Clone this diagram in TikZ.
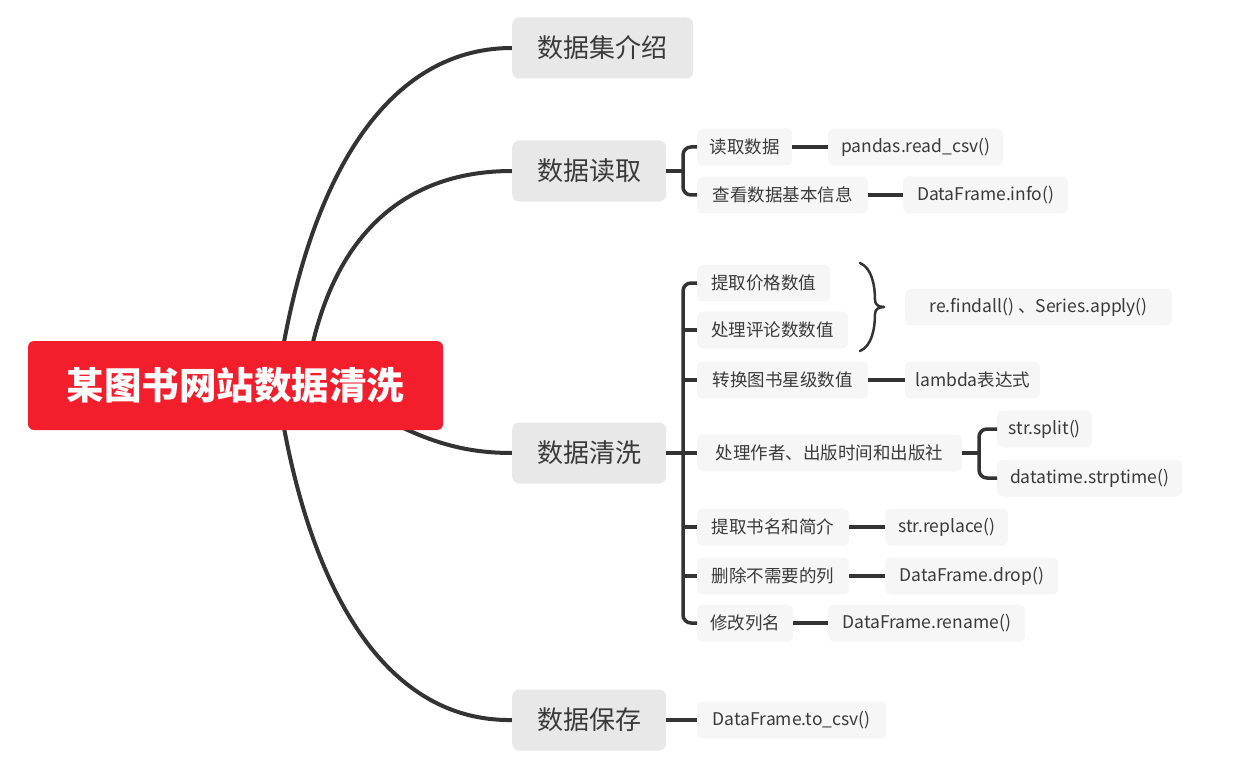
\documentclass[tikz,border=0pt]{standalone}
\usepackage{fontspec}
\setmainfont{Noto Sans CJK SC}
\usetikzlibrary{backgrounds}
\definecolor{rootred}{RGB}{243,30,44}
\definecolor{lvlgray}{RGB}{232,232,232}
\definecolor{leafgray}{RGB}{246,246,246}
\definecolor{ink}{RGB}{51,51,51}
\definecolor{txt}{RGB}{58,58,58}
\begin{document}
\begin{tikzpicture}[x=1pt,y=-1pt,
  rootbox/.style={fill=rootred, text=white, rounded corners=6pt, font=\fontsize{37.5}{42}\selectfont\bfseries, minimum width=415pt, minimum height=89pt, inner sep=0pt},
  topic/.style={fill=lvlgray, text=txt, rounded corners=7pt, font=\fontsize{26}{30}\selectfont, minimum height=61pt, inner xsep=4pt, anchor=west},
  leaf/.style={fill=leafgray, text=txt, rounded corners=6pt, font=\fontsize{17.5}{20}\selectfont, minimum height=37pt, inner xsep=4pt, anchor=west},
  conn/.style={draw=ink, line width=3.5pt},
  curve/.style={draw=ink, line width=4pt},
]
\useasboundingbox (0,0) rectangle (1260,762);

\node[rootbox] (root) at (235.5,385.5) {某图书网站数据清洗};

\node[topic, minimum width=181pt] (t1) at (512,48) {数据集介绍};
\node[topic, minimum width=154pt] (t2) at (512,171) {数据读取};
\node[topic, minimum width=154pt] (t3) at (512,453) {数据清洗};
\node[topic, minimum width=154pt] (t4) at (512,720) {数据保存};

% 数据读取
\node[leaf, minimum width=95pt] (r1) at (697,147) {读取数据};
\node[leaf, minimum width=175pt] (r1a) at (828,147) {pandas.read\_csv()};
\node[leaf, minimum width=171pt] (r2) at (697,195) {查看数据基本信息};
\node[leaf, minimum width=165pt] (r2a) at (903,195) {DataFrame.info()};

% 数据清洗
\node[leaf, minimum width=133pt] (c1) at (697,283) {提取价格数值};
\node[leaf, minimum width=151pt] (c2) at (697,330) {处理评论数数值};
\node[leaf, minimum width=267pt] (cb) at (905,307) {re.findall() 、Series.apply()};
\node[leaf, minimum width=171pt] (c3) at (697,380) {转换图书星级数值};
\node[leaf, minimum width=135pt] (c3a) at (905,380) {lambda表达式};
\node[leaf, minimum width=265pt] (c4) at (697,453) {处理作者、出版时间和出版社};
\node[leaf, minimum width=95pt] (c4a) at (997,429) {str.split()};
\node[leaf, minimum width=185pt] (c4b) at (997,478) {datatime.strptime()};
\node[leaf, minimum width=152pt] (c5) at (697,527) {提取书名和简介};
\node[leaf, minimum width=123pt] (c5a) at (885,527) {str.replace()};
\node[leaf, minimum width=152pt] (c6) at (697,576) {删除不需要的列};
\node[leaf, minimum width=173pt] (c6a) at (885,576) {DataFrame.drop()};
\node[leaf, minimum width=96pt] (c7) at (697,623) {修改列名};
\node[leaf, minimum width=197pt] (c7a) at (828,623) {DataFrame.rename()};

% 数据保存
\node[leaf, minimum width=189pt] (s1) at (697,720) {DataFrame.to\_csv()};

% main curves behind the root
\coordinate (o1) at (277,385);
\coordinate (o2) at (305,385);
\coordinate (o3) at (360,405);
\begin{scope}[on background layer]
\draw[curve] (o1) .. controls (305,187) and (382,48) .. (t1.west);
\draw[curve] (o2) .. controls (325,240) and (400,171) .. (t2.west);
\draw[curve] (o3) .. controls (420,440) and (460,453) .. (t3.west);
\draw[curve] (o1) .. controls (305,583) and (382,722) .. (t4.west);
\end{scope}

% 数据读取 bracket
\coordinate (kr) at (683,171);
\draw[conn] (t2.east) -- (kr);
\draw[conn, rounded corners=8pt] (r1.west) -| (kr) |- (r2.west);
\draw[conn] (r1.east) -- (r1a.west);
\draw[conn] (r2.east) -- (r2a.west);

% 数据清洗 trunk
\coordinate (kc) at (683,453);
\draw[conn] (t3.east) -- (kc);
\draw[conn, rounded corners=8pt] (c1.west) -| (kc) |- (c7.west);
\draw[conn] (c2.west -| kc) -- (c2.west);
\draw[conn] (c3.west -| kc) -- (c3.west);
\draw[conn] (kc) -- (c4.west);
\draw[conn] (c5.west -| kc) -- (c5.west);
\draw[conn] (c6.west -| kc) -- (c6.west);

% brace for c1/c2
\coordinate (bt) at (884,307);
\draw[draw=ink, line width=2.5pt, line cap=round] (860,263) .. controls (872,268) and (875,286) .. (875,300) .. controls (875,305) and (879,307) .. (bt);
\draw[draw=ink, line width=2.5pt, line cap=round] (860,351) .. controls (872,346) and (875,328) .. (875,314) .. controls (875,309) and (879,307) .. (bt);

\draw[conn] (c3.east) -- (c3a.west);
\coordinate (k4) at (979,453);
\draw[conn] (c4.east) -- (k4);
\draw[conn, rounded corners=8pt] (c4a.west) -| (k4) |- (c4b.west);
\draw[conn] (c5.east) -- (c5a.west);
\draw[conn] (c6.east) -- (c6a.west);
\draw[conn] (c7.east) -- (c7a.west);

\draw[conn] (t4.east) -- (s1.west);
\end{tikzpicture}
\end{document}
